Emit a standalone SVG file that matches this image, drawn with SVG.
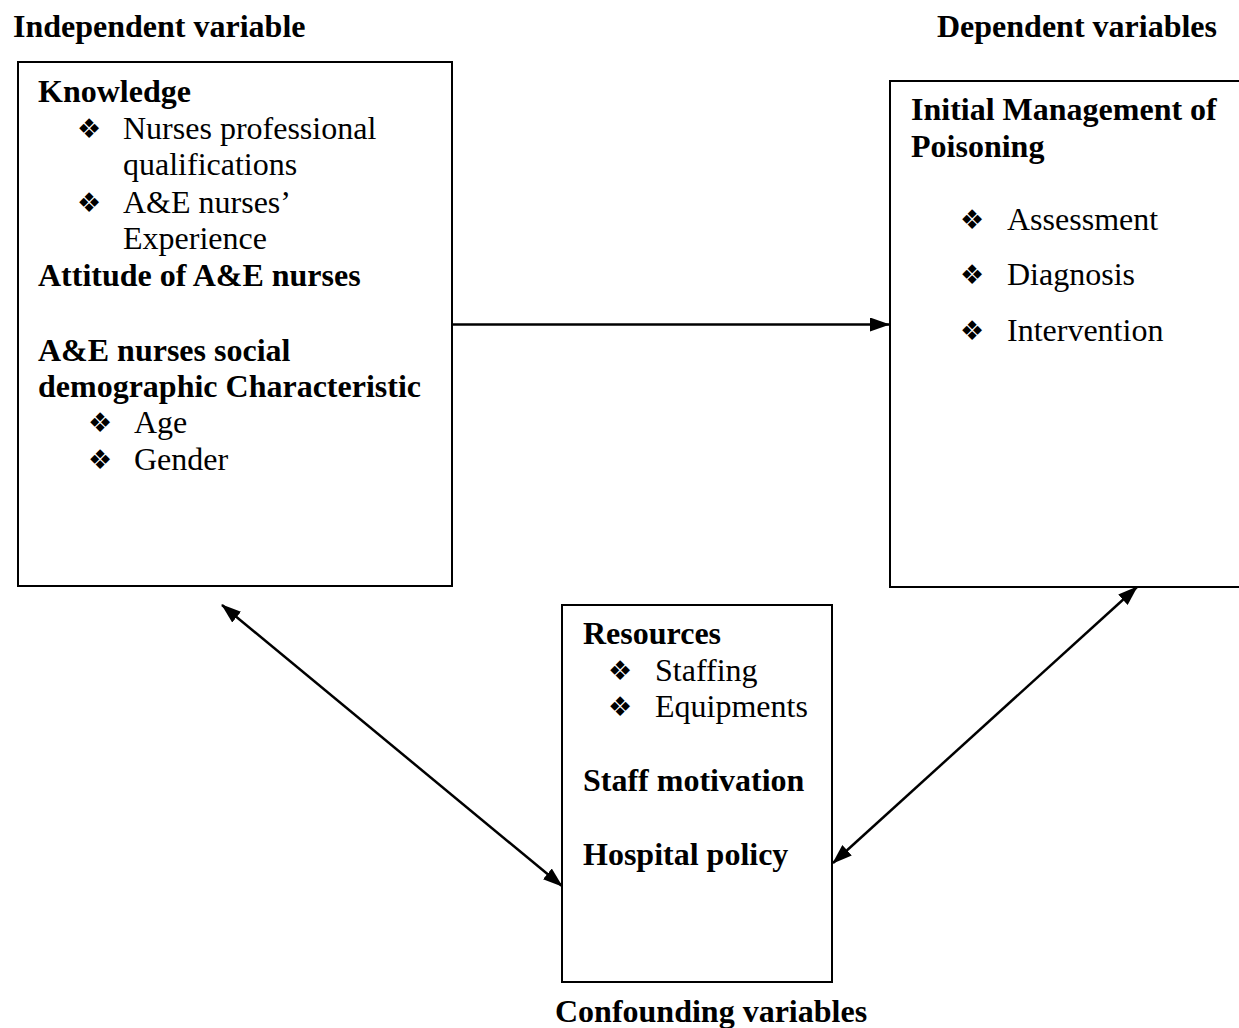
<svg xmlns="http://www.w3.org/2000/svg" width="1239" height="1028" viewBox="0 0 1239 1028">
<defs>
<style>
text{font-family:"Liberation Serif","Times New Roman",serif;font-size:32px;fill:#000}
.b{font-weight:bold}
.bul{font-family:"DejaVu Sans",sans-serif;font-size:27px}
.box{fill:#fff;stroke:#000;stroke-width:2}
.conn{stroke:#000;stroke-width:2.5;fill:none}
</style>
<marker id="ah" viewBox="0 0 20 14" refX="19" refY="7" markerWidth="20" markerHeight="14" markerUnits="userSpaceOnUse" orient="auto-start-reverse">
<path d="M0,0 L20,7 L0,14 z" fill="#000"/>
</marker>
</defs>
<rect width="1239" height="1028" fill="#fff"/>
<text class="b" x="13" y="37">Independent variable</text>
<text class="b" x="937" y="37">Dependent variables</text>
<text class="b" x="555" y="1022">Confounding variables</text>

<g id="independent">
<rect class="box" x="18" y="62" width="434" height="524"/>
<text class="b" x="38" y="102">Knowledge</text>
<text class="bul" x="77" y="138">❖</text>
<text x="123" y="139">Nurses professional</text>
<text x="123" y="175">qualifications</text>
<text class="bul" x="77" y="212">❖</text>
<text x="123" y="213">A&amp;E nurses’</text>
<text x="123" y="249">Experience</text>
<text class="b" x="38" y="286">Attitude of A&amp;E nurses</text>
<text class="b" x="38" y="361">A&amp;E nurses social</text>
<text class="b" x="38" y="397">demographic Characteristic</text>
<text class="bul" x="88" y="432">❖</text>
<text x="134" y="433">Age</text>
<text class="bul" x="88" y="469">❖</text>
<text x="134" y="470">Gender</text>
</g>

<g id="dependent">
<rect class="box" x="890" y="81" width="400" height="506"/>
<text class="b" x="911" y="120">Initial Management of</text>
<text class="b" x="911" y="157">Poisoning</text>
<text class="bul" x="960" y="229">❖</text>
<text x="1007" y="230">Assessment</text>
<text class="bul" x="960" y="284">❖</text>
<text x="1007" y="285">Diagnosis</text>
<text class="bul" x="960" y="340">❖</text>
<text x="1007" y="341">Intervention</text>
</g>

<g id="confounding">
<rect class="box" x="562" y="605" width="270" height="377"/>
<text class="b" x="583" y="644">Resources</text>
<text class="bul" x="608" y="680">❖</text>
<text x="655" y="681">Staffing</text>
<text class="bul" x="608" y="716">❖</text>
<text x="655" y="717">Equipments</text>
<text class="b" x="583" y="791">Staff motivation</text>
<text class="b" x="583" y="865">Hospital policy</text>
</g>

<g id="connectors">
<line class="conn" x1="452" y1="324.5" x2="889" y2="324.5" marker-end="url(#ah)"/>
<line class="conn" x1="222" y1="605" x2="562" y2="886" marker-start="url(#ah)" marker-end="url(#ah)"/>
<line class="conn" x1="1137" y1="587" x2="833" y2="863" marker-start="url(#ah)" marker-end="url(#ah)"/>
</g>
</svg>
